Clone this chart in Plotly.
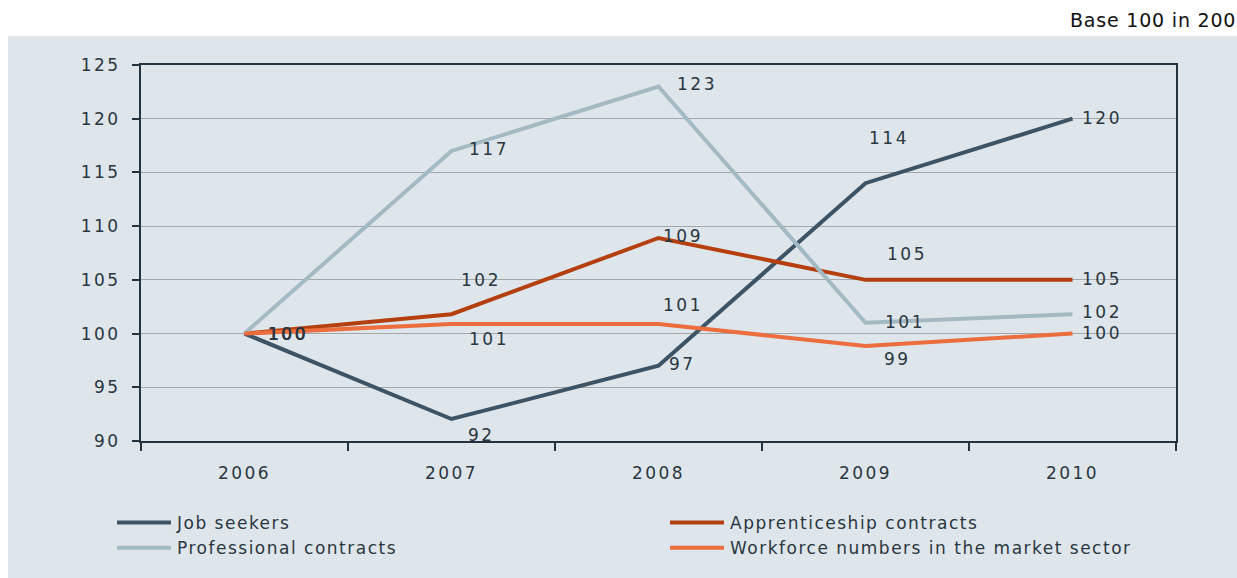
import plotly.graph_objects as go

years = ["2006", "2007", "2008", "2009", "2010"]
job_seekers = [100, 92.05, 97, 114, 120]
apprenticeship = [100, 101.8, 108.9, 105, 105]
professional = [100, 117, 123, 101, 101.8]
workforce = [100, 100.9, 100.9, 98.85, 100]

job_labels = ["100", "92", "97", "114", "120"]
appr_labels = ["100", "102", "109", "105", "105"]
prof_labels = ["100", "117", "123", "101", "102"]
work_labels = ["100", "101", "101", "99", "100"]

y_ticks = [90, 95, 100, 105, 110, 115, 120, 125]

names = ["Job seekers", "Apprenticeship contracts", "Professional contracts",
         "Workforce numbers in the market sector"]
colors = ["#3d5467", "#b5400f", "#a3b9c3", "#ec6d3e"]

# label offsets (pixels) relative to points: (dx right, dy down)
job_off = [(43, 0), (30, 16), (24, -2), (23, -45), (29, -1)]
appr_off = [(43, 0), (29, -34), (24, -2), (41, -26), (29, -1)]
prof_off = [(43, 0), (37, -2), (38, -2), (39, -1), (29, -2)]
work_off = [(43, 0), (37, 15), (24, -19), (32, 13), (29, -1)]

series = [job_seekers, apprenticeship, professional, workforce]
labels = [job_labels, appr_labels, prof_labels, work_labels]
offsets = [job_off, appr_off, prof_off, work_off]

panel = "#dee6ec"
textc = "#2a3640"
axisc = "#233340"
FONT = "DejaVu Sans, Verdana, sans-serif"


def spaced(t, s):
    return '<span style="letter-spacing:%spx">%s</span>' % (s, t)


fig = go.Figure()
for nm, vals, col in zip(names, series, colors):
    fig.add_trace(go.Scatter(x=years, y=vals, mode="lines", name=spaced(nm, 1.5),
                             line=dict(color=col, width=4)))

annotations = []
for vals, labs, offs in zip(series, labels, offsets):
    for i, (v, t, (dx, dy)) in enumerate(zip(vals, labs, offs)):
        annotations.append(dict(x=i, y=v, xref="x", yref="y", text=spaced(t, 2.5),
                                showarrow=False, xanchor="center", yanchor="middle",
                                xshift=dx, yshift=-dy,
                                font=dict(size=17, color=textc, family=FONT)))

annotations.append(dict(x=(1068 - 141) / 1035, y=(441 - 20) / 376, xref="paper", yref="paper",
                        text=spaced("Base 100 in 2006", 0.8), showarrow=False, xanchor="left",
                        yanchor="middle",
                        font=dict(size=19, color="#111111", family=FONT)))

fig.update_layout(
    width=1237, height=578,
    margin=dict(l=141, r=61, t=65, b=137),
    paper_bgcolor="white",
    plot_bgcolor=panel,
    font=dict(family=FONT, size=17, color=textc),
    annotations=annotations,
    shapes=[dict(type="rect", xref="paper", yref="paper",
                 x0=(8 - 141) / 1035, x1=(1240 - 141) / 1035,
                 y0=(441 - 580) / 376, y1=(441 - 36) / 376,
                 fillcolor=panel, line=dict(width=0), layer="below")],
    legend=dict(orientation="h", x=(112 - 141) / 1035, y=(441 - 505) / 376,
                xanchor="left", yanchor="top", bgcolor="rgba(0,0,0,0)",
                entrywidth=483, entrywidthmode="pixels", tracegroupgap=0,
                itemwidth=55,
                font=dict(size=17, color=textc, family=FONT)),
    xaxis=dict(type="category", range=[-0.5, 4.5], tickson="boundaries",
               tickvals=years, ticktext=[spaced(y, 2.5) for y in years],
               ticks="outside", ticklen=8, tickcolor=axisc, tickwidth=1.5,
               showline=True, linecolor=axisc, linewidth=2, mirror=True,
               showgrid=False, ticklabelstandoff=16, automargin=False,
               tickfont=dict(size=17, color=textc, family=FONT)),
    yaxis=dict(range=[90, 125], tickvals=y_ticks,
               ticktext=[spaced(str(v), 2.5) for v in y_ticks],
               ticks="outside", ticklen=7,
               tickcolor=axisc, tickwidth=1.5,
               showline=True, linecolor=axisc, linewidth=2, mirror=True,
               showgrid=True, gridcolor="#a3a8aa", gridwidth=1,
               zeroline=False, ticklabelstandoff=8, automargin=False,
               tickfont=dict(size=17, color=textc, family=FONT)),
)

post = """
document.body.style.margin='0';
document.querySelectorAll('.legendlines path').forEach(function(p){p.setAttribute('d','M5,0h54');});
"""
fig.write_html("out.html", post_script=post, config={"displayModeBar": False})
